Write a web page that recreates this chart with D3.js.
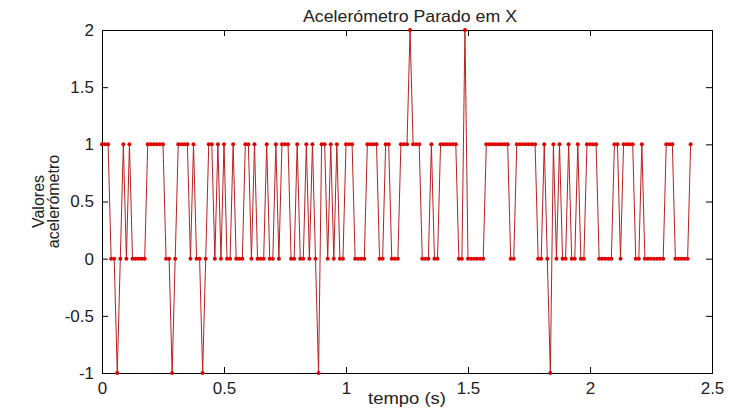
<!DOCTYPE html>
<html>
<head>
<meta charset="utf-8">
<script src="https://cdn.jsdelivr.net/npm/d3@7"></script>
<style>
  html, body { margin: 0; padding: 0; background: #ffffff; }
  svg { display: block; }
  text { font-family: "Liberation Sans", Arial, sans-serif; fill: #222; }
</style>
</head>
<body>
<svg id="chart" width="735" height="414"></svg>
<script>
// Accelerometer X readings sampled at a fixed interval
const sampleInterval = 0.0125; // seconds
const accelX = [
  1,1,1,0,0,-1,0,1,0,1,
  0,0,0,0,0,1,1,1,1,1,
  1,0,0,-1,0,1,1,1,1,0,
  1,0,0,-1,0,1,1,0,1,0,
  1,0,0,1,0,0,0,1,1,0,
  1,0,0,0,1,0,0,1,0,1,
  1,1,0,0,1,0,0,1,0,1,
  0,-1,1,1,0,1,0,1,0,0,
  1,1,1,0,0,0,0,1,1,1,
  1,0,0,1,1,0,0,0,1,1,
  1,2,1,1,1,0,0,0,1,0,
  0,1,1,1,1,1,1,0,0,2,
  0,0,0,0,0,0,1,1,1,1,
  1,1,1,1,0,0,1,1,1,1,
  1,1,1,0,0,1,0,-1,1,0,
  1,0,0,1,0,0,1,0,0,1,
  1,1,1,0,0,0,0,0,1,1,
  0,1,1,1,1,0,0,1,0,0,
  0,0,0,0,0,1,1,1,0,0,
  0,0,0,1
];

const xTicks = [0, 0.5, 1, 1.5, 2, 2.5];
const yTicks = [-1, -0.5, 0, 0.5, 1, 1.5, 2];
const titleText = "Acelerómetro Parado em X";
const xLabelText = "tempo (s)";
const yLabelLines = ["Valores", "acelerómetro"];

const points = accelX.map((v, i) => ({ t: i * sampleInterval, v }));

const svg = d3.select("#chart");
const plot = { left: 102, right: 712, top: 30, bottom: 373 };

const x = d3.scaleLinear().domain([0, 2.5]).range([plot.left, plot.right]);
const y = d3.scaleLinear().domain([-1, 2]).range([plot.bottom, plot.top]);

const tickLen = 6;
const fmt = d => String(d);
const fontSize = 17;

// bottom axis with inward ticks
const gx = svg.append("g")
  .attr("transform", `translate(0,${plot.bottom})`)
  .call(d3.axisBottom(x).tickValues(xTicks).tickFormat(fmt).tickSizeInner(-tickLen).tickSizeOuter(0).tickPadding(tickLen + 3));
// top axis, ticks only
const gxt = svg.append("g")
  .attr("transform", `translate(0,${plot.top})`)
  .call(d3.axisTop(x).tickValues(xTicks).tickFormat("").tickSizeInner(-tickLen).tickSizeOuter(0));
// left axis
const gy = svg.append("g")
  .attr("transform", `translate(${plot.left},0)`)
  .call(d3.axisLeft(y).tickValues(yTicks).tickFormat(fmt).tickSizeInner(-tickLen).tickSizeOuter(0).tickPadding(tickLen + 2));
// right axis, ticks only
const gyr = svg.append("g")
  .attr("transform", `translate(${plot.right},0)`)
  .call(d3.axisRight(y).tickValues(yTicks).tickFormat("").tickSizeInner(-tickLen).tickSizeOuter(0));

[gx, gxt, gy, gyr].forEach(g => {
  g.select(".domain").remove();
  g.selectAll("line").attr("stroke", "#000").attr("stroke-width", 1);
  g.selectAll("text").attr("font-size", fontSize).attr("fill", "#222")
    .attr("font-family", "'Liberation Sans', Arial, sans-serif");
});

// frame
svg.append("rect")
  .attr("x", plot.left + 0.5).attr("y", plot.top + 0.5)
  .attr("width", plot.right - plot.left).attr("height", plot.bottom - plot.top)
  .attr("fill", "none").attr("stroke", "#000").attr("stroke-width", 1);

// data line
const line = d3.line().x(d => x(d.t)).y(d => y(d.v));
svg.append("path")
  .datum(points)
  .attr("d", line)
  .attr("fill", "none")
  .attr("stroke", "#b82020")
  .attr("stroke-width", 1);

svg.append("g").selectAll("circle")
  .data(points)
  .join("circle")
  .attr("cx", d => x(d.t))
  .attr("cy", d => y(d.v))
  .attr("r", 2)
  .attr("fill", "#e00000");

// title and labels
svg.append("text")
  .attr("x", 410).attr("y", 22)
  .attr("text-anchor", "middle").attr("font-size", fontSize)
  .attr("textLength", 214).attr("lengthAdjust", "spacingAndGlyphs")
  .text(titleText);

svg.append("text")
  .attr("x", 407).attr("y", 404)
  .attr("text-anchor", "middle").attr("font-size", fontSize)
  .attr("textLength", 78).attr("lengthAdjust", "spacingAndGlyphs")
  .text(xLabelText);

const yl = svg.append("text")
  .attr("transform", `translate(0,${(plot.top + plot.bottom) / 2}) rotate(-90)`)
  .attr("text-anchor", "middle").attr("font-size", 16);
yLabelLines.forEach((s, i) => {
  yl.append("tspan").attr("x", 0).attr("y", 44 + i * 15).text(s);
});
</script>
</body>
</html>
